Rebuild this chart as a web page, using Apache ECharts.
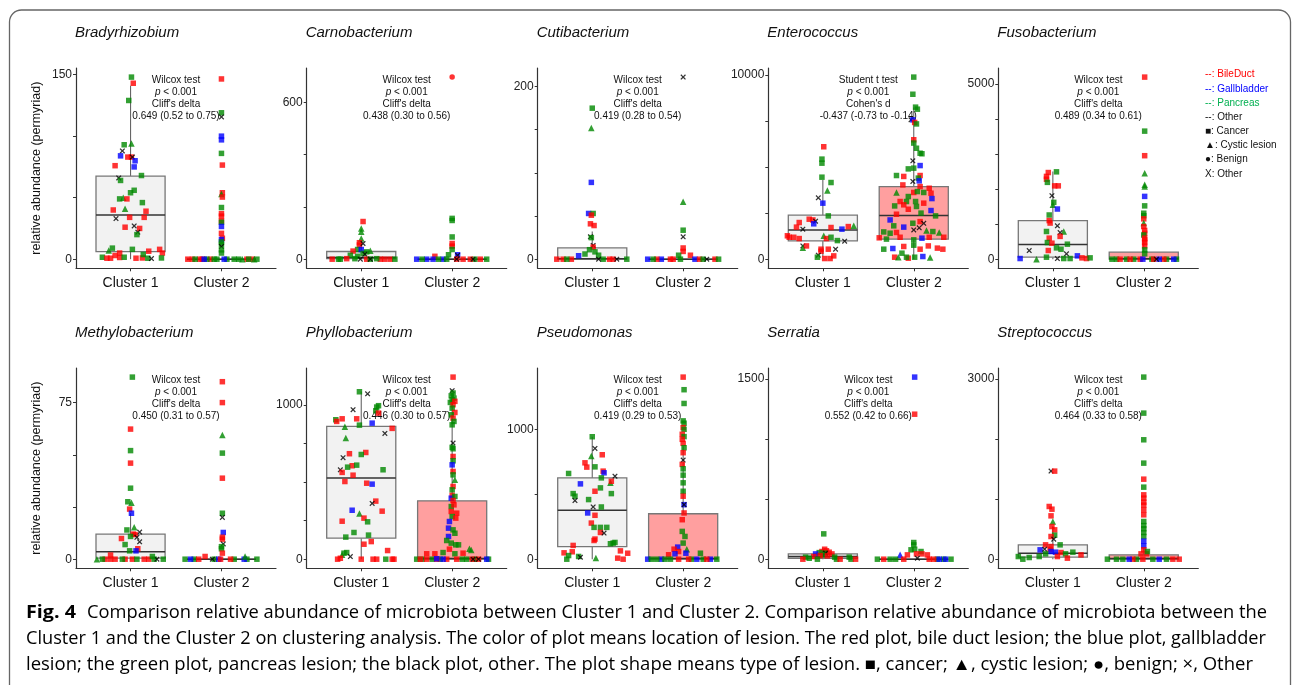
<!DOCTYPE html>
<html>
<head>
<meta charset="utf-8">
<script src="https://cdn.jsdelivr.net/npm/echarts@6/dist/echarts.min.js"></script>
<style>
  html, body { margin: 0; padding: 0; background: #fff; }
  #main { width: 1293px; height: 685px; }
</style>
</head>
<body>
<div id="main"></div>
<script>
/* ---- data ---- */
var genera = ['Bradyrhizobium', 'Carnobacterium', 'Cutibacterium', 'Enterococcus', 'Fusobacterium',
              'Methylobacterium', 'Phyllobacterium', 'Pseudomonas', 'Serratia', 'Streptococcus'];
var clusters = ['Cluster 1', 'Cluster 2'];

var testName = ['Wilcox test', 'Wilcox test', 'Wilcox test', 'Student t test', 'Wilcox test',
                'Wilcox test', 'Wilcox test', 'Wilcox test', 'Wilcox test', 'Wilcox test'];
var effectName = ["Cliff's delta", "Cliff's delta", "Cliff's delta", "Cohen's d", "Cliff's delta",
                  "Cliff's delta", "Cliff's delta", "Cliff's delta", "Cliff's delta", "Cliff's delta"];
var effectText = ['0.649 (0.52 to 0.75)', '0.438 (0.30 to 0.56)', '0.419 (0.28 to 0.54)', '-0.437 (-0.73 to -0.14)', '0.489 (0.34 to 0.61)',
                  '0.450 (0.31 to 0.57)', '0.446 (0.30 to 0.57)', '0.419 (0.29 to 0.53)', '0.552 (0.42 to 0.66)', '0.464 (0.33 to 0.58)'];

// y ticks (all) and labelled ticks
var tickVals = [[0, 50, 100, 150], [0, 200, 400, 600], [0, 50, 100, 150, 200], [0, 2500, 5000, 7500, 10000], [0, 1000, 2000, 3000, 4000, 5000],
                [0, 25, 50, 75], [0, 250, 500, 750, 1000], [0, 500, 1000], [0, 500, 1000, 1500], [0, 1000, 2000, 3000]];
var labelVals = [[0, 150], [0, 600], [0, 200], [0, 10000], [0, 5000],
                 [0, 75], [0, 1000], [0, 1000], [0, 1500], [0, 3000]];

// box stats: [lower whisker, Q1, median, Q3, upper whisker]
var boxC1 = [[0, 6.2, 36, 67.5, 141], [0, 2, 6.5, 29.5, 70], [0, 0, 0.5, 13.1, 32], [140, 993, 1590, 2387, 4300], [0, 57, 417, 1100, 2500],
             [0, 0.5, 3.6, 12, 22], [0, 136, 525, 860, 1086], [0, 97, 376, 626, 943], [0, 8, 22, 44, 95], [0, 33, 100, 238, 550]];
var boxC2 = [[0, 0, 0, 0, 0], [0, 0, 0, 0, 0], [0, 0, 0, 0, 0], [0, 1085, 2366, 3940, 8225], [0, 0, 10, 200, 480],
             [0, 0, 0, 0, 0], [0, 0, 5, 378, 1097], [0, 0, 5, 350, 870], [0, 0, 0, 0, 0], [0, 0, 10, 72, 180]];
var c2Pink = [false, false, false, true, true, false, true, true, false, true];

// points: [jitter offset from cluster, value, colour+shape]  r/b/g/k ; s=square t=triangle c=circle x=cross
var bradyC1 = [[.01,148,'gs'],[.03,143,'rs'],[-.02,129,'gs'],[.01,94,'gt'],[-.07,93,'gs'],[-.09,88,'kx'],[-.11,84,'bs'],[-.03,83,'rs'],[.01,83,'rs'],[.02,83,'kx'],[.05,80,'bs'],[-.17,76,'rs'],[.04,75,'bs'],[.12,68,'gs'],[-.13,66,'kx'],[-.11,64,'gs'],[0,54,'gs'],[.04,56,'gs'],[-.12,49,'gs'],[-.08,50,'gt'],[-.04,49,'rs'],[.13,46,'gs'],[-.19,40,'rs'],[-.06,41,'gt'],[.17,39,'rs'],[-.16,33,'kx'],[.15,34,'rs'],[-.01,34,'rs'],[-.06,26,'rs'],[.04,27,'kx'],[.1,25,'rs'],[.08,22,'kx'],[.07,20,'gs'],[-.24,7,'gt'],[-.2,9,'gs'],[.02,8,'gs'],[.2,6.5,'rs'],[.32,8,'rs'],[.35,5,'rs'],[-.12,5,'rs'],[-.17,3,'rs'],[-.31,1.6,'gs'],[-.26,0.8,'rs'],[-.22,0.8,'rs'],[-.12,1.4,'rs'],[-.07,1.6,'gs'],[.06,0.8,'rs'],[.13,1,'rs'],[.14,3.8,'gs'],[.19,0.8,'gs'],[.23,0.5,'kx'],[.34,1,'gs']];
var bradyC2 = [[0,146.5,'rs'],[0,119,'gs'],[0,115.6,'kx'],[0,100,'bs'],[0,97,'bs'],[0,86,'gs'],[.01,76.5,'rs'],[.01,54,'rs'],[0,53,'gt'],[.01,50.5,'rs'],[0,42,'gs'],[0,37,'rs'],[0,35,'rs'],[0,31,'rs'],[0,30,'gs'],[0,26.6,'bs'],[0,21,'rs'],[.01,17,'rs'],[0,16,'bs'],[0,14,'gs'],[0,12,'gs'],[0,10.3,'kx'],[0,7.6,'gs'],[0,5,'gs'],[-.37,0,'rs'],[-.32,0,'rs'],[-.24,0,'rs'],[-.21,0,'rs'],[-.12,0,'rs'],[.28,0,'rs'],[.34,0,'rs'],[-.29,0,'gs'],[-.16,0,'gs'],[-.08,0,'gs'],[-.05,0,'gs'],[.06,0,'gs'],[.14,0,'gs'],[.19,0,'gs'],[.3,0,'gs'],[.39,0,'gs'],[-.19,0,'bs'],[.03,0,'bs'],[.23,0,'gt'],[.36,0,'gt']];

var carnoC1 = [[.02,144,'rs'],[0,117,'gt'],[0,105,'gt'],[0,79,'gt'],[-.02,63,'rs'],[-.02,54,'rs'],[.02,60,'kx'],[-.04,37,'gs'],[0,37,'bs'],[.06,28,'gs'],[.1,32,'gt'],[-.09,31,'rs'],[-.12,15,'gs'],[.02,22,'gs'],[-.04,11,'gs'],[.04,19,'kx'],[-.32,0,'rs'],[-.16,2,'rs'],[.06,0,'rs'],[.21,0,'rs'],[.26,0,'rs'],[.32,0,'rs'],[-.25,0,'gs'],[-.23,0,'gs'],[-.07,2,'gs'],[.1,0,'gs'],[.17,2,'gs'],[.37,0,'gs'],[-.01,0,'kx'],[.1,0,'kx']];
var carnoC2 = [[0,696,'rc'],[0,156,'gs'],[0,148,'gs'],[0,85,'gs'],[0,60,'rs'],[0,50,'rs'],[0,37,'gs'],[-.04,17,'gs'],[-.19,11,'rs'],[.06,17,'bs'],[.06,15,'kx'],[-.39,0,'bs'],[-.28,0,'bs'],[-.21,0,'bs'],[-.1,0,'bs'],[-.33,0,'gs'],[-.15,0,'gs'],[-.06,0,'gs'],[.25,0,'gs'],[.38,0,'gs'],[.05,0,'rs'],[.12,0,'rs'],[.2,0,'rs'],[.31,0,'rs'],[.05,0,'kx'],[.23,0,'kx']];

var cutiC1 = [[0,175,'gs'],[-.01,152,'gt'],[-.01,89,'bs'],[-.04,53,'bs'],[.01,53,'gs'],[-.01,51,'rs'],[-.02,41,'rs'],[.02,39,'rs'],[-.02,26,'kx'],[-.01,25,'gs'],[.01,16,'kx'],[.01,14,'rs'],[-.03,11,'gs'],[.03,8.5,'gs'],[-.08,6,'gs'],[-.15,4,'bs'],[.07,4.6,'gs'],[-.39,0,'rs'],[-.32,0,'rs'],[-.23,0,'rs'],[.19,0,'rs'],[.23,0,'rs'],[-.28,0,'gs'],[.12,0,'gs'],[.38,0,'gs'],[.07,0,'kx'],[.27,0,'kx']];
var cutiC2 = [[0,211,'kx'],[0,66.5,'gt'],[0,33.6,'gs'],[0,26,'kx'],[0,13,'rs'],[0,9,'rs'],[-.05,4.6,'gs'],[.08,4.6,'rs'],[-.39,0,'bs'],[-.24,0,'bs'],[.13,0,'bs'],[-.29,0,'rs'],[-.14,0,'rs'],[-.11,0,'rs'],[.18,0,'rs'],[.35,0,'rs'],[-.33,0,'gs'],[-.03,0,'gs'],[.22,0,'gs'],[.39,0,'gs'],[.26,0,'kx']];

var enteroC1 = [[.01,6100,'rs'],[-.01,5430,'gs'],[-.01,5210,'gs'],[-.01,4450,'gs'],[.09,4160,'gs'],[.05,3730,'gt'],[-.05,3330,'kx'],[0,3040,'bs'],[.06,2350,'gs'],[-.15,2170,'rs'],[-.11,2130,'rs'],[-.08,2060,'kx'],[-.1,1920,'bs'],[-.26,1990,'rs'],[-.22,1630,'kx'],[-.29,1740,'rs'],[.21,1630,'bs'],[.09,1720,'rs'],[.28,1770,'rs'],[.34,1810,'gt'],[-.37,1190,'rs'],[-.39,1270,'rs'],[-.32,1190,'rs'],[-.26,1120,'rs'],[.01,1270,'gt'],[.04,1120,'rs'],[.09,1190,'gs'],[.16,1010,'gs'],[.24,980,'kx'],[-.22,720,'kx'],[-.22,615,'gt'],[-.18,720,'rs'],[-.02,543,'rs'],[.06,543,'rs'],[.14,543,'kx'],[-.02,434,'rs'],[-.05,217,'kx'],[-.06,108,'gs'],[.02,36,'rs'],[.08,36,'rs'],[.12,180,'rs']];
var enteroC2 = [[0,9880,'gs'],[-.01,8950,'gs'],[.02,8250,'gs'],[.04,8140,'gs'],[-.03,7560,'kx'],[-.01,7560,'bs'],[.01,7420,'rs'],[.03,7340,'gs'],[0,6480,'rs'],[0,6300,'gs'],[.03,6020,'gs'],[.07,5750,'gs'],[.09,5720,'gs'],[-.01,5340,'kx'],[.07,5080,'bs'],[-.06,4900,'gs'],[0,4940,'gs'],[-.19,4540,'gs'],[-.11,4490,'rs'],[.07,4540,'rs'],[.05,4400,'gs'],[-.01,4220,'kx'],[.06,4250,'bs'],[-.12,4030,'rs'],[.07,3940,'rs'],[.17,3850,'rs'],[0,3620,'rs'],[.04,3670,'gs'],[-.06,3400,'gs'],[-.19,3620,'gt'],[.11,3620,'gs'],[.19,3580,'rs'],[.2,3290,'bs'],[-.15,3130,'rs'],[-.08,3130,'gs'],[.02,3130,'gs'],[.11,3040,'rs'],[-.21,2890,'gs'],[-.11,2950,'rs'],[.03,2860,'gs'],[-.06,2710,'rs'],[.08,2500,'gs'],[.19,2640,'bs'],[-.19,2440,'rs'],[.24,2350,'gs'],[-.26,2130,'bs'],[.07,2040,'rs'],[-.01,1950,'gs'],[-.22,1810,'gs'],[-.11,1740,'bs'],[0,1590,'kx'],[.06,1700,'kx'],[.11,1950,'kx'],[.14,1560,'gt'],[-.33,1480,'gs'],[-.26,1410,'gs'],[-.19,1450,'rs'],[.21,1500,'gs'],[.28,1450,'gt'],[.33,1190,'rs'],[-.38,1160,'rs'],[-.3,1090,'gs'],[-.15,1190,'rs'],[.09,1140,'bs'],[0,1050,'gs'],[.17,1190,'rs'],[-.11,690,'rs'],[-.23,580,'bs'],[0,760,'gs'],[.07,543,'rs'],[.16,720,'rs'],[.26,600,'rs'],[.32,543,'rs'],[-.33,543,'gs'],[-.13,326,'gs'],[-.21,108,'rs'],[-.17,108,'gt'],[-.06,54,'rs'],[.01,108,'gs'],[.1,145,'bs'],[.18,90,'gt'],[-.08,108,'gs']];

var fusoC1 = [[.04,2490,'gs'],[-.05,2470,'rs'],[-.07,2360,'rs'],[-.07,2280,'rs'],[-.06,2190,'gs'],[.02,2090,'rs'],[.06,2090,'rs'],[-.01,1810,'kx'],[0,1550,'gt'],[.01,1620,'gs'],[.05,1430,'bs'],[-.04,1260,'gs'],[-.04,1100,'rs'],[-.03,1030,'rs'],[.05,950,'kx'],[.12,790,'gt'],[.08,760,'kx'],[-.07,790,'gs'],[.08,650,'rs'],[-.04,600,'rs'],[-.06,475,'gs'],[-.01,456,'rs'],[.16,428,'gs'],[.04,323,'gs'],[-.26,247,'kx'],[-.05,247,'rs'],[.09,285,'gs'],[.15,152,'kx'],[.27,95,'bs'],[-.36,19,'bs'],[-.18,0,'gt'],[-.07,57,'gs'],[.05,19,'kx'],[.12,19,'gs'],[.19,19,'gs'],[.32,38,'rs'],[.37,19,'rs'],[.41,38,'gs']];
var fusoC2 = [[.01,5190,'rs'],[.01,3650,'gs'],[.01,2950,'rs'],[.01,2450,'gt'],[.01,2120,'gt'],[.01,2070,'gt'],[.01,1790,'bs'],[.01,1520,'gs'],[0,1310,'gs'],[0,1240,'gs'],[0,1150,'rs'],[0,1030,'gt'],[0,930,'rs'],[.01,820,'rs'],[.01,740,'rs'],[0,690,'gs'],[.01,600,'rs'],[.01,550,'rs'],[.01,475,'rs'],[.01,380,'rs'],[.01,266,'gs'],[.01,152,'gs'],[-.35,0,'gs'],[-.3,0,'gs'],[-.19,0,'gs'],[-.11,0,'gs'],[.09,0,'gs'],[.25,0,'gs'],[.36,0,'gs'],[-.26,0,'rs'],[-.15,0,'rs'],[-.04,0,'rs'],[.11,0,'rs'],[.22,0,'rs'],[-.01,0,'bs'],[.17,0,'bs'],[.33,0,'bs'],[.14,0,'kx']];

var methylC1 = [[.02,87.2,'gs'],[0,62.3,'rs'],[0,52,'gs'],[0,46,'rs'],[0,34,'gs'],[-.03,27.5,'gs'],[.01,27,'gt'],[-.01,24,'rs'],[.01,22,'bs'],[.04,15.3,'gt'],[-.04,14,'gs'],[.1,13,'kx'],[.03,12,'rs'],[.05,11.8,'rs'],[.07,10.5,'kx'],[-.1,9.9,'rs'],[0,10.9,'gs'],[.1,8.3,'kx'],[-.06,7,'gs'],[.08,5,'rs'],[.06,4,'bs'],[-.01,4,'gs'],[-.22,2,'rs'],[-.37,0,'gt'],[-.28,0,'rs'],[-.22,0,'rs'],[-.17,0,'rs'],[-.06,0,'rs'],[.02,0,'rs'],[.15,0,'rs'],[.2,0,'rs'],[-.31,0,'gs'],[-.09,0,'gs'],[.07,0,'gs'],[.26,0,'gs'],[.36,0,'gs'],[.29,0,'kx'],[.24,1.3,'gs']];
var methylC2 = [[.01,85,'rs'],[.01,75,'rs'],[.01,59.5,'gt'],[.01,50.8,'gs'],[.01,38.8,'rs'],[.01,22,'gs'],[.01,20,'kx'],[.02,12.8,'bs'],[.01,10.5,'rs'],[.01,9.6,'rs'],[.02,7.3,'kx'],[0,6,'gs'],[0,5,'gs'],[.01,2.9,'rs'],[-.4,0,'gs'],[-.3,0,'gs'],[-.08,0,'gs'],[.14,0,'gs'],[.28,0,'gs'],[.39,0,'gs'],[-.34,0,'bs'],[-.03,0,'bs'],[.25,0,'bs'],[-.25,0,'rs'],[-.18,1.3,'rs'],[-.01,0,'rs'],[.1,0,'rs'],[-.1,0,'kx'],[.26,1.3,'gt']];

var phylloC1 = [[-.02,1084,'gs'],[.07,1071,'kx'],[-.09,968,'kx'],[.19,994,'gs'],[.17,985,'gs'],[.16,961,'gs'],[.19,946,'rs'],[-.28,903,'gs'],[-.21,909,'rs'],[-.27,892,'rs'],[-.05,909,'rs'],[.12,881,'bs'],[-.02,868,'gs'],[-.18,858,'gt'],[.34,847,'rs'],[.26,814,'kx'],[-.17,784,'gt'],[.05,691,'rs'],[0,678,'gs'],[-.13,683,'rs'],[-.2,657,'kx'],[-.1,605,'rs'],[-.15,596,'gs'],[-.05,609,'gs'],[-.23,579,'kx'],[-.21,562,'rs'],[.24,579,'gs'],[-.09,544,'rs'],[-.18,503,'rs'],[.06,492,'rs'],[.12,486,'bs'],[.16,376,'rs'],[.12,361,'kx'],[.23,311,'rs'],[-.1,317,'bs'],[-.02,296,'gt'],[.03,266,'rs'],[.07,242,'gs'],[-.21,246,'rs'],[-.08,173,'gs'],[-.17,143,'gs'],[.08,156,'gs'],[.11,114,'rs'],[.03,97,'rs'],[.29,56,'rs'],[-.19,39,'gs'],[-.16,43,'gs'],[-.21,28,'gt'],[-.12,17,'kx'],[-.26,0,'rs'],[-.23,6,'rs'],[0,0,'rs'],[.13,0,'rs'],[.17,0,'rs'],[.27,0,'gs'],[.34,0,'rs'],[.36,0,'rs']];
var phylloC2 = [[.01,1179,'rs'],[0,1091,'kx'],[.01,1076,'gs'],[-.01,1058,'gs'],[.02,1043,'gs'],[0,1032,'gs'],[-.02,1015,'gs'],[.03,1022,'rs'],[.01,1000,'rs'],[0,978,'gs'],[.03,950,'rs'],[-.01,935,'gs'],[.01,914,'rs'],[.02,892,'gs'],[0,870,'gs'],[.01,752,'kx'],[0,724,'gs'],[.01,715,'gs'],[.01,665,'rs'],[.01,637,'gs'],[0,611,'bs'],[.01,568,'rs'],[.01,546,'gs'],[.03,514,'gt'],[.01,471,'rs'],[0,449,'gs'],[0,413,'rs'],[-.01,395,'bs'],[.03,406,'gs'],[.01,380,'rs'],[-.01,341,'gs'],[.02,352,'rs'],[-.01,309,'rs'],[.05,298,'rs'],[0,276,'gs'],[-.03,244,'bs'],[.04,266,'rs'],[-.04,201,'bs'],[.01,190,'gs'],[-.04,147,'bs'],[.03,168,'gs'],[-.06,121,'gs'],[-.01,104,'gs'],[.04,93,'gs'],[.07,93,'gs'],[-.03,65,'rs'],[.19,67,'gt'],[.21,60,'gt'],[.12,39,'rs'],[.03,35,'gs'],[-.19,35,'rs'],[-.28,35,'rs'],[-.1,43,'gs'],[-.39,0,'gs'],[-.33,0,'gs'],[-.22,0,'gs'],[-.13,0,'gs'],[.11,0,'gs'],[.16,0,'gs'],[.25,0,'gs'],[.4,0,'gs'],[-.35,0,'rs'],[-.28,0,'rs'],[-.17,0,'rs'],[-.06,0,'rs'],[.05,0,'rs'],[.22,0,'rs'],[.29,0,'rs'],[-.17,3,'bs'],[-.1,0,'bs'],[.38,0,'bs'],[.23,0,'kx'],[.29,0,'kx']];

var pseudoC1 = [[0,943,'gs'],[.03,853,'kx'],[-.01,794,'gt'],[.11,804,'rs'],[-.08,742,'rs'],[-.06,709,'rs'],[.03,711,'gs'],[.12,678,'rs'],[.13,665,'bs'],[-.26,660,'gs'],[.1,626,'gs'],[.25,639,'kx'],[-.13,580,'bs'],[.2,588,'gt'],[.21,600,'rs'],[.09,549,'gs'],[.03,523,'rs'],[-.21,505,'gs'],[-.19,485,'gs'],[.21,505,'gs'],[-.04,459,'gs'],[-.19,451,'kx'],[.01,402,'kx'],[.1,402,'gs'],[-.05,356,'bs'],[.03,338,'rs'],[-.01,278,'rs'],[.02,245,'gs'],[.09,245,'gs'],[.16,245,'gs'],[.09,206,'rs'],[.13,201,'kx'],[.02,144,'rs'],[.03,155,'rs'],[.2,119,'gs'],[.23,124,'gs'],[.25,129,'gs'],[-.21,106,'rs'],[.31,64,'rs'],[-.31,49,'rs'],[-.22,57,'rs'],[.39,46,'rs'],[-.26,28,'gs'],[-.15,21,'gs'],[-.13,15,'kx'],[.04,10,'gt'],[-.28,0,'gs'],[.28,8,'rs'],[.34,0,'rs']];
var pseudoC2 = [[0,1402,'rs'],[.01,1305,'gs'],[.01,1199,'gs'],[0,1065,'gs'],[.01,1047,'gs'],[0,1013,'rs'],[.01,1000,'gs'],[-.01,962,'rs'],[.01,944,'gs'],[-.01,923,'rs'],[0,892,'rs'],[.01,858,'gs'],[0,820,'rs'],[0,763,'kx'],[-.01,730,'rs'],[0,696,'gs'],[0,647,'gs'],[0,588,'gs'],[0,523,'gs'],[0,485,'rs'],[.01,420,'bs'],[.01,420,'kx'],[.01,356,'rs'],[-.01,304,'rs'],[-.01,214,'gs'],[.02,175,'gs'],[0,124,'gs'],[.04,77,'gt'],[-.06,93,'bs'],[-.05,59,'rs'],[-.1,77,'rs'],[-.09,41,'bs'],[.03,46,'bs'],[.19,46,'gs'],[-.16,34,'rs'],[-.39,0,'bs'],[-.24,0,'bs'],[.15,0,'bs'],[.3,0,'bs'],[-.35,0,'gs'],[-.29,0,'gs'],[-.2,0,'gs'],[-.14,0,'gs'],[.09,0,'gs'],[.22,0,'gs'],[.37,0,'gs'],[-.05,0,'rs'],[.06,0,'rs'],[.26,0,'rs']];

var serraC1 = [[.01,211,'gs'],[.02,83,'rs'],[.04,70,'rs'],[-.01,64,'rs'],[.07,58,'rs'],[.1,44,'rs'],[-.04,55,'gs'],[.02,50,'gs'],[-.08,44,'bs'],[.03,50,'kx'],[0,35,'gs'],[-.03,30,'rs'],[-.1,22,'rs'],[.05,28,'rs'],[-.19,17,'gs'],[-.15,8,'gs'],[-.22,0,'rs'],[-.06,0,'gs'],[.13,17,'gs'],[.15,0,'gs'],[.19,0,'rs'],[.29,17,'gs'],[.31,0,'gs'],[.36,0,'rs']];
var serraC2 = [[.01,1517,'bs'],[.01,1208,'rs'],[0,139,'gs'],[0,119,'gs'],[-.03,78,'gs'],[.01,83,'gs'],[.08,64,'gs'],[.03,44,'rs'],[.09,44,'rs'],[.15,36,'rs'],[-.15,36,'bt'],[-.07,36,'rs'],[.04,8,'kx'],[-.4,0,'gs'],[-.26,0,'gs'],[-.2,0,'gs'],[.26,0,'gs'],[.33,0,'gs'],[.41,0,'gs'],[-.33,0,'rs'],[-.11,0,'rs'],[.17,0,'rs'],[.22,0,'rs'],[.28,0,'bs'],[.35,0,'bs']];

var streptoC1 = [[-.02,1467,'kx'],[.02,1467,'rs'],[-.04,878,'rs'],[-.01,833,'rs'],[-.02,722,'rs'],[0,628,'gt'],[-.01,544,'rs'],[.02,489,'rs'],[.02,400,'gs'],[-.02,378,'rs'],[.01,333,'kx'],[-.08,239,'rs'],[.08,239,'gs'],[-.02,211,'rs'],[-.14,156,'bs'],[-.09,167,'kx'],[-.03,167,'rs'],[-.02,128,'bs'],[.03,117,'bs'],[.09,111,'rs'],[.22,117,'gs'],[.14,89,'gs'],[.31,72,'rs'],[-.38,44,'gs'],[-.33,0,'gs'],[-.26,28,'gs'],[-.15,44,'gs'],[-.08,89,'gs'],[.05,44,'rs'],[.16,17,'rs']];
var streptoC2 = [[0,3033,'gs'],[0,2433,'gs'],[0,1989,'gs'],[0,1600,'gs'],[0,1333,'rs'],[0,1200,'gs'],[0,1072,'rs'],[0,1017,'rs'],[0,950,'rs'],[0,900,'rs'],[0,820,'rs'],[0,739,'rs'],[0,628,'gs'],[0,560,'gs'],[0,506,'gs'],[0,445,'gs'],[0,378,'gs'],[0,300,'bs'],[0,222,'bs'],[0,156,'rs'],[-.03,89,'rs'],[.03,89,'rs'],[.04,128,'gs'],[-.4,0,'gs'],[-.3,0,'gs'],[-.23,0,'gs'],[-.08,0,'gs'],[.1,0,'gs'],[.25,0,'gs'],[-.12,0,'rs'],[-.01,0,'rs'],[.32,0,'rs'],[.39,0,'rs'],[-.16,0,'bs'],[.17,0,'bs']];

var pointsC1 = [bradyC1, carnoC1, cutiC1, enteroC1, fusoC1, methylC1, phylloC1, pseudoC1, serraC1, streptoC1];
var pointsC2 = [bradyC2, carnoC2, cutiC2, enteroC2, fusoC2, methylC2, phylloC2, pseudoC2, serraC2, streptoC2];

var captionLines = [
  'Comparison relative abundance of microbiota between Cluster 1 and Cluster 2. Comparison relative abundance of microbiota between the',
  'Cluster 1 and the Cluster 2 on clustering analysis. The color of plot means location of lesion. The red plot, bile duct lesion; the blue plot, gallbladder',
  'lesion; the green plot, pancreas lesion; the black plot, other. The plot shape means type of lesion. \u25A0, cancer; \u25B2, cystic lesion; \u25CF, benign; \u00D7, Other'
];

/* ---- drawing ---- */
var FONT = "'Liberation Sans', Arial, sans-serif";
var COL = { r: '#ff0000', b: '#0000ff', g: '#008800', k: '#000000' };
var CROSS = 'path://M0,1.6L1.6,0L5,3.4L8.4,0L10,1.6L6.6,5L10,8.4L8.4,10L5,6.6L1.6,10L0,8.4L3.4,5Z';
var SYM = { s: 'rect', t: 'triangle', c: 'circle', x: CROSS };
var SIZE = { s: 5.5, t: 6.5, c: 5.5, x: 5.5 };

var gridLeft = [76, 306.7, 537.7, 768.3, 998.3];
var gridTop = [68, 368];
var GW = 200, GH = 200.3;

var myChart = echarts.init(document.getElementById('main'));

function renderBox(params, api) {
  var cat = api.value(0), lo = api.value(1), q1 = api.value(2), md = api.value(3), q3 = api.value(4), hi = api.value(5);
  var pink = api.value(6) === 1;
  var a = api.coord([cat - 0.38, q3]), b = api.coord([cat + 0.38, q1]);
  var m = api.coord([cat, md]);
  var wHi = api.coord([cat, hi]), wLo = api.coord([cat, lo]);
  var lineSt = { stroke: '#666', lineWidth: 1.1 };
  return {
    type: 'group',
    children: [
      { type: 'line', shape: { x1: wHi[0], y1: wHi[1], x2: m[0], y2: a[1] }, style: lineSt },
      { type: 'line', shape: { x1: wLo[0], y1: wLo[1], x2: m[0], y2: b[1] }, style: lineSt },
      { type: 'rect', shape: { x: a[0], y: a[1], width: b[0] - a[0], height: b[1] - a[1] },
        style: { fill: pink ? '#ff9f9f' : '#f2f2f2', stroke: '#777', lineWidth: 1.3 } },
      { type: 'line', shape: { x1: a[0], y1: m[1], x2: b[0], y2: m[1] }, style: { stroke: '#333', lineWidth: 1.5 } }
    ]
  };
}

function toItems(pts, cat) {
  return pts.map(function (p) {
    var c = p[2].charAt(0), s = p[2].charAt(1);
    return { value: [cat + p[0], p[1]], symbol: SYM[s], symbolSize: SIZE[s], itemStyle: { color: COL[c] } };
  });
}

var grids = [], xAxes = [], yAxes = [], series = [], graphics = [];

genera.forEach(function (name, i) {
  var col = i % 5, row = Math.floor(i / 5);
  var left = gridLeft[col], top = gridTop[row];
  var all = pointsC1[i].concat(pointsC2[i]).map(function (p) { return p[1]; });
  var dmax = Math.max.apply(null, all);

  grids.push({ left: left, top: top, width: GW, height: GH });
  xAxes.push({
    gridIndex: i, type: 'value', min: 0.4, max: 2.6,
    axisLine: { onZero: false, lineStyle: { color: '#333', width: 1.2 } },
    axisTick: { customValues: [1, 2], length: 3, lineStyle: { color: '#333' } },
    axisLabel: { customValues: [1, 2], formatter: function (v) { return clusters[Math.round(v) - 1]; },
                 fontSize: 14, color: '#111', margin: 8, fontFamily: FONT },
    splitLine: { show: false }
  });
  yAxes.push({
    gridIndex: i, type: 'value', min: -0.05 * dmax, max: 1.05 * dmax,
    axisLine: { show: true, onZero: false, lineStyle: { color: '#333', width: 1.2 } },
    axisTick: { show: true, customValues: tickVals[i], length: 3, lineStyle: { color: '#333' } },
    axisLabel: { customValues: labelVals[i], formatter: function (v) { return String(Math.round(v)); },
                 fontSize: 12, color: '#222', margin: 4, fontFamily: FONT },
    splitLine: { show: false }
  });

  series.push({
    type: 'custom', xAxisIndex: i, yAxisIndex: i, renderItem: renderBox, silent: true, z: 1,
    encode: { x: 0, y: 3 },
    data: [[1].concat(boxC1[i], [0]), [2].concat(boxC2[i], [c2Pink[i] ? 1 : 0])]
  });
  series.push({ type: 'scatter', xAxisIndex: i, yAxisIndex: i, silent: true, z: 3, data: toItems(pointsC1[i], 1) });
  series.push({ type: 'scatter', xAxisIndex: i, yAxisIndex: i, silent: true, z: 3, data: toItems(pointsC2[i], 2) });

  // panel title
  graphics.push({ type: 'text', x: left - 1, y: top - 35, style: { text: name, font: 'italic 15px ' + FONT, fill: '#111', textVerticalAlign: 'middle' } });
  // test annotation
  var cx = left + GW / 2, ty = top + 12;
  graphics.push({ type: 'text', x: cx, y: ty, style: { text: testName[i], font: '10px ' + FONT, fill: '#111', textAlign: 'center', textVerticalAlign: 'middle' } });
  graphics.push({ type: 'text', x: cx, y: ty + 12, style: { text: '{i|p} < 0.001', font: '10px ' + FONT, fill: '#111', textAlign: 'center', textVerticalAlign: 'middle',
    rich: { i: { fontStyle: 'italic', fontSize: 10, fontFamily: FONT, fill: '#111' } } } });
  graphics.push({ type: 'text', x: cx, y: ty + 24, style: { text: effectName[i], font: '10px ' + FONT, fill: '#111', textAlign: 'center', textVerticalAlign: 'middle' } });
  graphics.push({ type: 'text', x: cx, y: ty + 36, style: { text: effectText[i], font: '10px ' + FONT, fill: '#111', textAlign: 'center', textVerticalAlign: 'middle' } });

  if (col === 0) {
    graphics.push({ type: 'text', x: 37, y: top + GH / 2, rotation: Math.PI / 2,
      style: { text: 'relative abundance (permyriad)', font: '12.5px ' + FONT, fill: '#111', textAlign: 'center', textVerticalAlign: 'middle' } });
  }
});

// legend
var legendItems = [['--: BileDuct', '#ff0000'], ['--: Gallbladder', '#0000ff'], ['--: Pancreas', '#00b050'], ['--: Other', '#111'],
                   ['\u25A0: Cancer', '#111'], ['\u25B2: Cystic lesion', '#111'], ['\u25CF: Benign', '#111'], ['X: Other', '#111']];
var legendY = [74.3, 89, 103.3, 117.7, 131, 145.7, 159.3, 174.3];
legendItems.forEach(function (it, k) {
  graphics.push({ type: 'text', x: 1205, y: legendY[k], style: { text: it[0], font: '10px ' + FONT, fill: it[1], textVerticalAlign: 'middle' } });
});

// frame
graphics.push({ type: 'rect', shape: { x: 9.5, y: 10, width: 1281, height: 690, r: 12 }, style: { fill: null, stroke: '#666', lineWidth: 1.3 }, z: -1 });

// caption, stretched to the printed line widths
var CAP = "'Open Sans', 'Noto Sans', sans-serif";
var meas = document.createElement('canvas').getContext('2d');
function fitScale(str, font, target) { meas.font = font; return target / meas.measureText(str).width; }
var capFont = '17.5px ' + CAP, boldFont = 'bold 17.5px ' + CAP;
var capX = [87, 26, 26], capEnd = [1267, 1266, 1253], capY = [613, 639.5, 665];
graphics.push({ type: 'text', x: 26, y: capY[0], scaleX: fitScale('Fig. 4', boldFont, 50),
  style: { text: 'Fig. 4', font: boldFont, fill: '#000', textVerticalAlign: 'middle' } });
captionLines.forEach(function (line, k) {
  graphics.push({ type: 'text', x: capX[k], y: capY[k], scaleX: fitScale(line, capFont, capEnd[k] - capX[k]),
    style: { text: line, font: capFont, fill: '#000', textVerticalAlign: 'middle' } });
});

option = {
  animation: false,
  backgroundColor: '#fff',
  grid: grids,
  xAxis: xAxes,
  yAxis: yAxes,
  series: series,
  graphic: { elements: graphics }
};
myChart.setOption(option);
</script>
</body>
</html>
